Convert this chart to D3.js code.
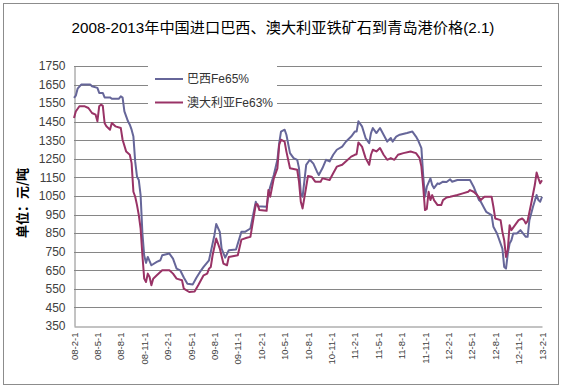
<!DOCTYPE html>
<html><head><meta charset="utf-8">
<script src="https://cdn.jsdelivr.net/npm/d3@7"></script>
<style>body{margin:0;background:#fff}svg{display:block}</style>
</head><body>
<script>
const title = "2008-2013年中国进口巴西、澳大利亚铁矿石到青岛港价格(2.1)";
const yTitle = "单位：元/吨";
const seriesNames = ["巴西Fe65%", "澳大利亚Fe63%"];
const tickLabels = ["08-2-1","08-5-1","08-8-1","08-11-1","09-2-1","09-5-1","09-8-1","09-11-1","10-2-1","10-5-1","10-8-1","10-11-1","11-2-1","11-5-1","11-8-1","11-11-1","12-2-1","12-5-1","12-8-1","12-11-1","13-2-1"];
const tickWeeks = [0,13,26,39,52,65,78,91,104,117,130,143,156,169,182,195,208,221,234,247,260];
const yTicks = [350,450,550,650,750,850,950,1050,1150,1250,1350,1450,1550,1650,1750];

// week index since 2008-02-01, price (元/吨)
const brazilWeek = [0,1,2,4,9,10,13,14,16,17,20,21,25,26,27,28,30,31,32,33,34,35,36,37,38,39,40,41,43,46,48,49,53,55,57,59,61,63,66,68,70,72,75,76,78,79,81,82,84,86,90,93,95,98,101,102,107,108,109,111,113,114,115,117,118,120,122,124,125,126,127,129,131,133,135,136,138,140,142,144,146,149,151,154,156,157,158,160,162,164,165,166,168,170,172,174,176,177,179,181,185,188,190,191,193,194,195,196,198,199,200,202,203,205,207,209,210,213,220,222,225,226,228,229,232,233,235,238,239,240,241,242,243,244,246,248,251,252,253,255,257,258,259,260];
const brazilPrice = [1578,1590,1628,1650,1650,1641,1632,1605,1605,1581,1581,1574,1574,1587,1580,1506,1452,1434,1407,1370,1235,1154,1136,1055,850,729,690,722,677,695,704,731,740,713,659,650,611,578,574,610,641,668,704,749,839,899,857,767,718,758,762,857,857,875,1019,995,992,1060,1100,1163,1245,1335,1397,1407,1380,1281,1254,1245,1200,1064,1046,1218,1245,1224,1181,1163,1199,1245,1236,1272,1299,1316,1342,1370,1397,1397,1452,1425,1362,1335,1389,1416,1389,1416,1380,1343,1362,1343,1370,1380,1389,1397,1370,1353,1308,1160,1046,1100,1145,1109,1092,1118,1115,1127,1125,1140,1127,1136,1136,1100,1028,1019,983,965,947,884,848,767,668,659,740,794,812,848,848,866,830,830,920,992,1055,1028,1019,1046];

const australiaWeek = [0,1,3,6,8,10,12,13,14,15,16,17,18,20,21,23,26,27,29,31,32,33,34,35,36,37,38,39,40,41,42,43,44,46,49,53,55,57,60,61,64,67,69,72,74,75,76,77,79,81,83,85,86,91,93,96,98,101,102,103,107,108,109,111,113,114,115,117,118,120,124,125,126,127,129,130,132,134,137,138,142,144,146,149,151,154,156,157,158,160,162,164,165,166,168,170,172,174,176,178,180,183,187,190,192,193,194,195,196,197,198,199,200,202,204,205,207,209,213,216,219,220,222,224,226,228,232,233,234,237,238,239,240,241,242,243,245,247,249,250,251,252,254,256,257,258,259,260];
const australiaPrice = [1470,1505,1533,1533,1524,1497,1488,1452,1533,1542,1535,1443,1425,1407,1443,1425,1416,1353,1289,1272,1227,1073,1046,1001,947,875,731,605,587,632,614,569,605,623,650,650,632,605,596,551,533,536,569,623,632,659,668,731,821,767,686,677,722,731,815,825,830,1005,1005,974,970,1082,1046,1145,1199,1326,1353,1343,1289,1199,1191,1127,1019,983,1100,1158,1154,1127,1127,1145,1136,1172,1208,1218,1236,1262,1272,1275,1338,1316,1254,1218,1272,1299,1290,1308,1272,1245,1254,1245,1272,1281,1290,1281,1254,1208,1100,974,980,1073,1028,1055,1028,1001,1001,1028,1042,1046,1055,1064,1073,1082,1073,1055,1028,1046,1046,992,929,920,857,812,722,760,893,866,893,920,929,920,902,915,1010,1109,1176,1145,1118,1135];

const colors = ["#666699", "#993366"];
const W = 562, H = 389;
const svg = d3.select("body").append("svg").attr("width", W).attr("height", H);
const fontLat = "'Liberation Sans', Arial, sans-serif";
const fontCJK = "'Liberation Sans', 'Noto Sans CJK SC', sans-serif";

svg.append("rect").attr("x", 3.5).attr("y", 3.5).attr("width", 555).attr("height", 381)
  .attr("fill", "#fff").attr("stroke", "#8c8c8c").attr("stroke-width", 1);

const x = d3.scaleLinear().domain([0, 260]).range([74, 542]);
const y = d3.scaleLinear().domain([350, 1750]).range([326, 66]);

// gridlines
svg.append("g").selectAll("line").data(yTicks.filter(v => v > 350)).join("line")
  .attr("x1", 74).attr("x2", 542).attr("y1", d => Math.round(y(d)) + 0.5).attr("y2", d => Math.round(y(d)) + 0.5)
  .attr("stroke", "#868686").attr("stroke-width", 1);

// axes
const yAxis = d3.axisLeft(y).tickValues(yTicks).tickSize(0).tickPadding(9).tickFormat(d3.format("d"));
const gy = svg.append("g").attr("transform", "translate(74.5,0)").call(yAxis);
gy.select(".domain").attr("stroke", "#868686");
gy.selectAll("text").attr("font-family", fontLat).attr("font-size", 12).attr("fill", "#404040");

const xAxis = d3.axisBottom(x).tickValues(tickWeeks).tickSize(0).tickFormat((d, i) => tickLabels[i]);
const gx = svg.append("g").attr("transform", "translate(0,326.5)").call(xAxis);
gx.select(".domain").attr("stroke", "#868686");
gx.selectAll("text").attr("font-family", fontLat).attr("font-size", 9.5).attr("fill", "#404040")
  .attr("text-anchor", "end").attr("dy", null).attr("y", null)
  .attr("transform", "translate(3,6) rotate(-90)");

// lines
const line = d3.line().x(d => x(d[0])).y(d => y(d[1]));
const brazil = brazilWeek.map((w, i) => [w, brazilPrice[i]]);
const australia = australiaWeek.map((w, i) => [w, australiaPrice[i]]);
[brazil, australia].forEach((s, i) => {
  svg.append("path").datum(s).attr("d", line).attr("fill", "none")
    .attr("stroke", colors[i]).attr("stroke-width", 2).attr("stroke-linejoin", "round");
});

// legend
const lg = svg.append("g");
lg.append("rect").attr("x", 148).attr("y", 60).attr("width", 129).attr("height", 54).attr("fill", "#fff");
seriesNames.forEach((n, i) => {
  const yy = 79 + i * 23.5;
  lg.append("line").attr("x1", 155).attr("x2", 183).attr("y1", yy).attr("y2", yy)
    .attr("stroke", colors[i]).attr("stroke-width", 2);
  lg.append("text").attr("x", 187).attr("y", yy).attr("dy", "0.36em")
    .attr("font-family", fontCJK).attr("font-size", 12).attr("fill", "#333").text(n);
});

// title
svg.append("text").attr("x", 283).attr("y", 33).attr("text-anchor", "middle")
  .attr("font-family", fontCJK).attr("font-size", 15.2).attr("fill", "#000").text(title);

// y title
svg.append("text").attr("transform", "translate(27,203) rotate(-90)").attr("text-anchor", "middle")
  .attr("font-family", "'Noto Sans CJK SC', sans-serif").attr("font-weight", "bold")
  .attr("font-size", 13).attr("fill", "#000").text(yTitle);
</script>
</body></html>
